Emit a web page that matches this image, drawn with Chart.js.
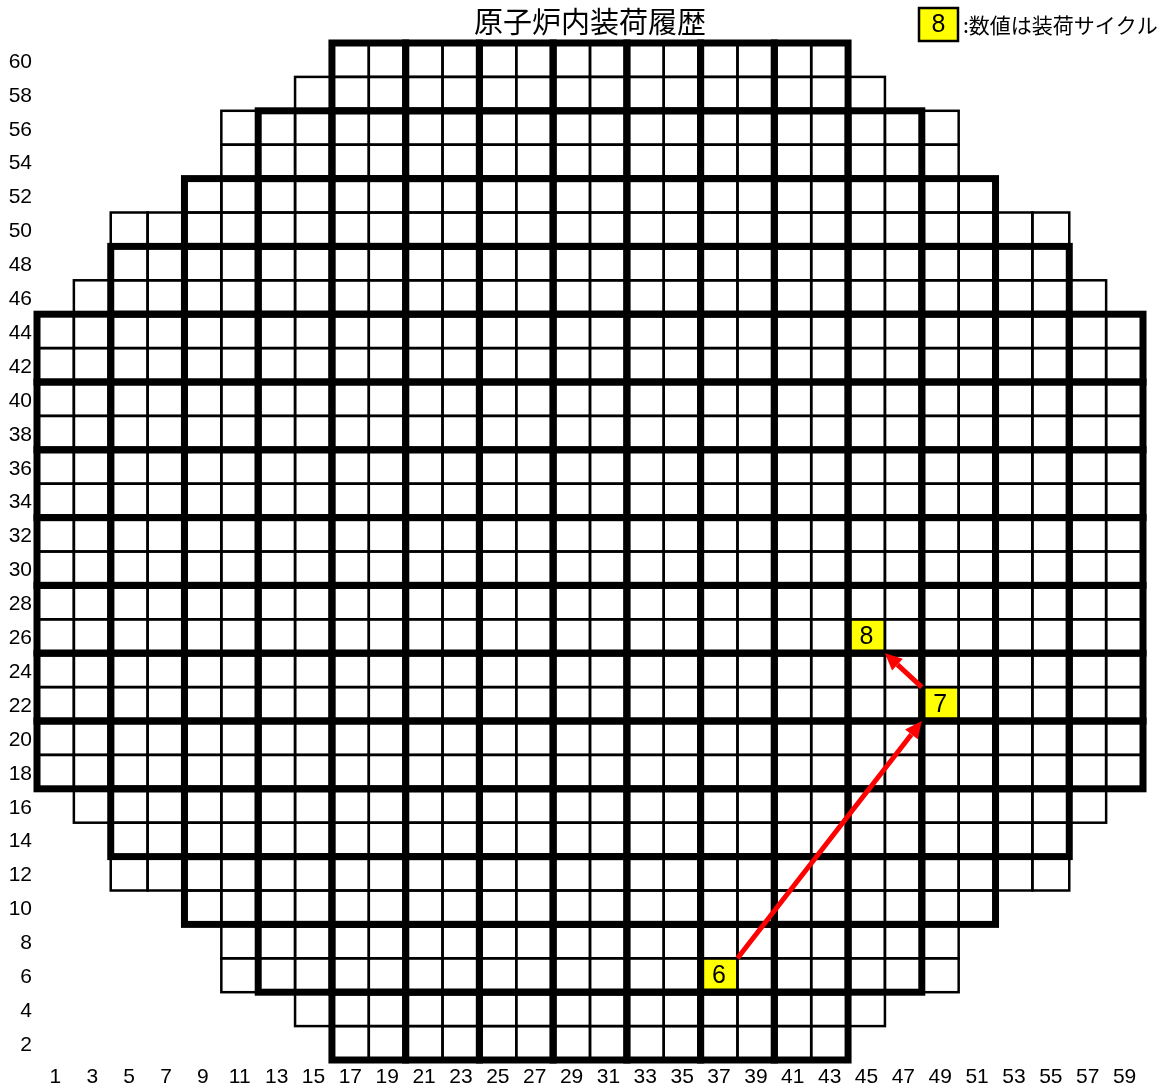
<!DOCTYPE html>
<html lang="ja">
<head>
<meta charset="utf-8">
<title>原子炉内装荷履歴</title>
<script src="https://cdn.jsdelivr.net/npm/chart.js@4/dist/chart.umd.min.js"></script>
<style>
  html, body { margin: 0; padding: 0; background: #fff; }
  canvas { display: block; }
</style>
</head>
<body>
<canvas id="coreMap" width="1164" height="1088"></canvas>
<script>
// core layout: for every row (y position) the first and last column inside the core
const rowY     = [60, 58, 56, 54, 52, 50, 48, 46, 44, 42, 40, 38, 36, 34, 32, 30, 28, 26, 24, 22, 20, 18, 16, 14, 12, 10, 8, 6, 4, 2];
const rowFirst = [17, 15, 11, 11,  9,  5,  5,  3,  1,  1,  1,  1,  1,  1,  1,  1,  1,  1,  1,  1,  1,  1,  3,  5,  5,  9, 11, 11, 15, 17];
const rowLast  = [43, 45, 49, 49, 51, 55, 55, 57, 59, 59, 59, 59, 59, 59, 59, 59, 59, 59, 59, 59, 59, 59, 57, 55, 55, 51, 49, 49, 45, 43];

const xTicks = [1, 3, 5, 7, 9, 11, 13, 15, 17, 19, 21, 23, 25, 27, 29, 31, 33, 35, 37, 39, 41, 43, 45, 47, 49, 51, 53, 55, 57, 59];
const yTicks = [2, 4, 6, 8, 10, 12, 14, 16, 18, 20, 22, 24, 26, 28, 30, 32, 34, 36, 38, 40, 42, 44, 46, 48, 50, 52, 54, 56, 58, 60];

// loading history of the assembly (position and cycle), in order
const loadX = [37, 49, 45];
const loadY = [6, 22, 26];
const loadCycle = [6, 7, 8];

const legendCycle = 8;
const legendText = ':数値は装荷サイクル';

const numFont = '"Liberation Sans", Arial, sans-serif';
const narrowFont = '"Liberation Sans Narrow", "Liberation Sans", sans-serif';
const jpFont = '"Noto Sans CJK JP", "Noto Sans", sans-serif';

function inCore(cx, cy) {
    const i = rowY.indexOf(cy);
    return i >= 0 && cx >= rowFirst[i] && cx <= rowLast[i];
}

const coreGrid = {
    id: 'coreGrid',
    beforeDatasetsDraw(chart) {
        const { ctx, scales: { x, y } } = chart;
        const rect = (x0, x1, y0, y1) => {
            const l = x.getPixelForValue(x0), r = x.getPixelForValue(x1);
            const t = y.getPixelForValue(y1), b = y.getPixelForValue(y0);
            return [l, t, r - l, b - t];
        };
        ctx.save();

        // loaded cells
        ctx.fillStyle = '#ffff00';
        loadX.forEach((cx, i) => {
            ctx.fillRect(...rect(cx - 1, cx + 1, loadY[i] - 1, loadY[i] + 1));
        });

        // single assemblies
        ctx.strokeStyle = '#000';
        ctx.lineWidth = 2.5;
        rowY.forEach((cy, i) => {
            for (let cx = rowFirst[i]; cx <= rowLast[i]; cx += 2) {
                ctx.strokeRect(...rect(cx - 1, cx + 1, cy - 1, cy + 1));
            }
        });

        // complete 2x2 groups get a heavy border
        ctx.lineWidth = 7;
        ctx.lineJoin = 'miter';
        for (let i = 0; i < rowY.length; i += 2) {
            const top = rowY[i], bot = rowY[i + 1];
            for (let cx = 1; cx <= 57; cx += 4) {
                if (inCore(cx, top) && inCore(cx + 2, top) && inCore(cx, bot) && inCore(cx + 2, bot)) {
                    ctx.strokeRect(...rect(cx - 1, cx + 3, bot - 1, top + 1));
                }
            }
        }

        // cycle numbers
        ctx.fillStyle = '#000';
        ctx.font = '25px ' + narrowFont;
        ctx.textAlign = 'center';
        ctx.textBaseline = 'middle';
        loadX.forEach((cx, i) => {
            ctx.fillText(String(loadCycle[i]), x.getPixelForValue(cx), y.getPixelForValue(loadY[i]) + 1);
        });
        ctx.restore();
    },
    afterDatasetsDraw(chart) {
        const { ctx, scales: { x, y } } = chart;
        ctx.save();
        ctx.strokeStyle = '#ff0000';
        ctx.fillStyle = '#ff0000';
        ctx.lineWidth = 5;
        for (let i = 0; i < loadX.length - 1; i++) {
            const dx = Math.sign(loadX[i + 1] - loadX[i]);
            const dy = Math.sign(loadY[i + 1] - loadY[i]);
            const sx = x.getPixelForValue(loadX[i] + dx), sy = y.getPixelForValue(loadY[i] + dy);
            const ex = x.getPixelForValue(loadX[i + 1] - dx), ey = y.getPixelForValue(loadY[i + 1] - dy);
            const ang = Math.atan2(ey - sy, ex - sx);
            const head = 17, half = 8;
            const bx = ex - head * Math.cos(ang), by = ey - head * Math.sin(ang);
            ctx.beginPath();
            ctx.moveTo(sx, sy);
            ctx.lineTo(bx, by);
            ctx.stroke();
            ctx.beginPath();
            ctx.moveTo(ex, ey);
            ctx.lineTo(bx + half * Math.sin(ang), by - half * Math.cos(ang));
            ctx.lineTo(bx - half * Math.sin(ang), by + half * Math.cos(ang));
            ctx.closePath();
            ctx.fill();
        }
        ctx.restore();
    },
    afterDraw(chart) {
        const { ctx } = chart;
        const bx = chart.width - 245, by = 8, bw = 39, bh = 33;
        ctx.save();
        ctx.fillStyle = '#ffff00';
        ctx.fillRect(bx, by, bw, bh);
        ctx.strokeStyle = '#000';
        ctx.lineWidth = 2.5;
        ctx.strokeRect(bx, by, bw, bh);
        ctx.fillStyle = '#000';
        ctx.font = '25px ' + narrowFont;
        ctx.textAlign = 'center';
        ctx.textBaseline = 'middle';
        ctx.fillText(String(legendCycle), bx + bw / 2, by + bh / 2 + 1);
        ctx.font = '21px ' + jpFont;
        ctx.textAlign = 'left';
        ctx.fillText(legendText, bx + bw + 5, by + bh / 2 + 1);
        ctx.restore();
    }
};

const tickFont = { family: numFont, size: 21 };

new Chart(document.getElementById('coreMap'), {
    type: 'scatter',
    data: {
        datasets: [
            {
                label: '装荷位置',
                data: loadX.map((v, i) => ({ x: v, y: loadY[i] })),
                pointRadius: 0,
            },
        ],
    },
    options: {
        responsive: false,
        animation: false,
        events: [],
        layout: { padding: { left: 0, right: 21, top: 0, bottom: 0 } },
        plugins: {
            legend: { display: false },
            tooltip: { enabled: false },
            title: {
                display: true,
                text: '原子炉内装荷履歴',
                color: '#000',
                fullSize: false,
                font: { family: jpFont, size: 29, weight: 'normal', lineHeight: 1.2 },
                padding: { top: 5, bottom: 3.2 },
            },
        },
        scales: {
            x: {
                type: 'linear',
                min: 0,
                max: 60,
                grid: { display: false, drawTicks: false, tickLength: 0 },
                border: { display: false },
                afterBuildTicks: (s) => { s.ticks = xTicks.map((v) => ({ value: v })); },
                afterFit: (s) => { s.height = 28; },
                ticks: { color: '#000', font: tickFont, padding: 5, autoSkip: false, maxRotation: 0 },
            },
            y: {
                type: 'linear',
                min: 1,
                max: 61,
                grid: { display: false, drawTicks: false, tickLength: 0 },
                border: { display: false },
                afterBuildTicks: (s) => { s.ticks = yTicks.map((v) => ({ value: v })); },
                afterFit: (s) => { s.width = 37; },
                ticks: { color: '#000', font: tickFont, padding: 5, labelOffset: 2, autoSkip: false },
            },
        },
    },
    plugins: [coreGrid],
});
</script>
</body>
</html>
